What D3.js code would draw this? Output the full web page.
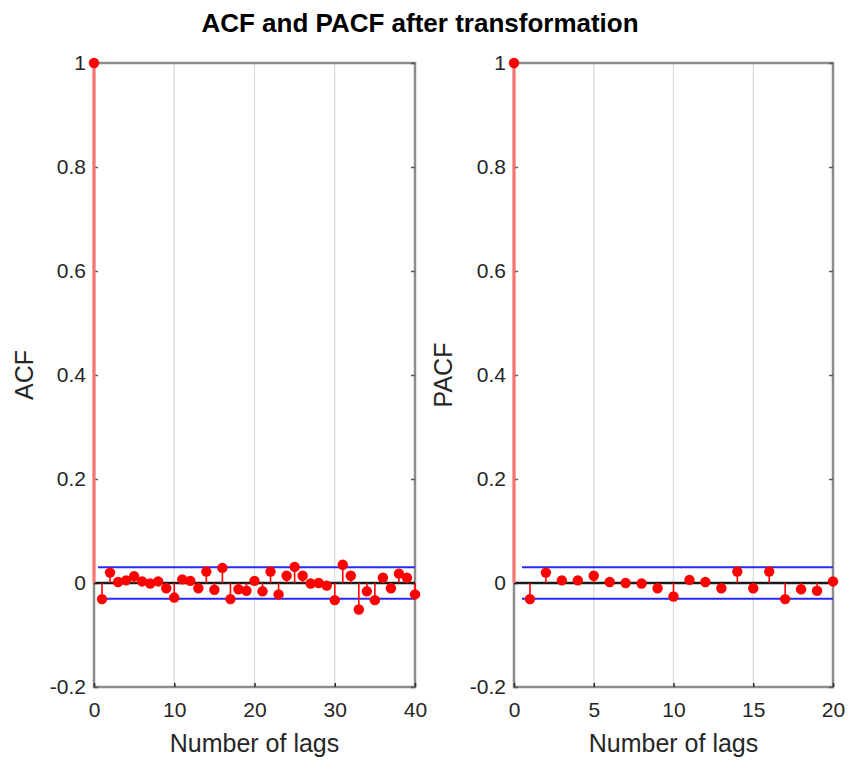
<!DOCTYPE html>
<html>
<head>
<meta charset="utf-8">
<script src="https://cdn.jsdelivr.net/npm/d3@7"></script>
<style>
  html, body { margin: 0; padding: 0; background: #fff; }
  svg { display: block; font-family: "Liberation Sans", Arial, sans-serif; }
</style>
</head>
<body>
<svg id="chart" width="850" height="762"></svg>
<script>
// Sample autocorrelation, lags 0..40
const acfLags = d3.range(0, 41);
const acfValues = [
  1.000, -0.031, 0.020, 0.002, 0.005, 0.013, 0.003, -0.001, 0.003, -0.010,
  -0.028, 0.007, 0.004, -0.010, 0.022, -0.013, 0.029, -0.031, -0.012, -0.015,
  0.004, -0.016, 0.022, -0.022, 0.014, 0.031, 0.014, -0.001, 0.000, -0.005,
  -0.033, 0.035, 0.014, -0.051, -0.016, -0.033, 0.010, -0.010, 0.018, 0.010,
  -0.022
];
// Sample partial autocorrelation, lags 0..20
const pacfLags = d3.range(0, 21);
const pacfValues = [
  1.000, -0.031, 0.020, 0.005, 0.005, 0.014, 0.002, 0.000, -0.001, -0.010,
  -0.026, 0.006, 0.002, -0.010, 0.022, -0.010, 0.022, -0.031, -0.012, -0.015,
  0.003
];
// Approximate 95% confidence bound
const confBound = 0.0305;

const yTicks = [-0.2, 0, 0.2, 0.4, 0.6, 0.8, 1];
const acfXTicks = [0, 10, 20, 30, 40];
const pacfXTicks = [0, 5, 10, 15, 20];

const FONT = "'Liberation Sans', Arial, sans-serif";
const svg = d3.select("#chart");

svg.append("text")
  .attr("x", 420).attr("y", 32)
  .attr("text-anchor", "middle")
  .attr("font-size", 26).attr("font-weight", "bold")
  .attr("fill", "#000")
  .text("ACF and PACF after transformation");

// plain hyphen for negatives, as in "-0.2"
const fmtY = d => String(+d.toFixed(1));

function panel(opts) {
  const { left, right, top, bottom, lags, values, xMax, xTicks, ylabel, ylabelX } = opts;
  const x = d3.scaleLinear().domain([0, xMax]).range([left, right]);
  const y = d3.scaleLinear().domain([-0.2, 1]).range([bottom, top]);
  const g = svg.append("g");

  // vertical grid lines
  g.append("g").selectAll("line").data(xTicks.filter(t => t > 0 && t < xMax)).join("line")
    .attr("x1", d => x(d)).attr("x2", d => x(d))
    .attr("y1", top).attr("y2", bottom)
    .attr("stroke", "#dedede").attr("stroke-width", 1.4);

  // axes box
  g.append("rect")
    .attr("x", left).attr("y", top)
    .attr("width", right - left).attr("height", bottom - top)
    .attr("fill", "none").attr("stroke", "#8c8c8c").attr("stroke-width", 2.5);

  // ticks (inward) and labels
  const xAxis = d3.axisBottom(x).tickValues(xTicks).tickSize(-4).tickPadding(12).tickFormat(d3.format("d"));
  const xg = g.append("g").attr("transform", `translate(0,${bottom})`).call(xAxis);
  xg.select(".domain").remove();
  xg.selectAll("line").attr("stroke", "#262626").attr("stroke-width", 1.5);
  xg.selectAll("text").attr("font-size", 21).attr("fill", "#262626")
    .attr("font-family", FONT).attr("dy", "0.85em");

  const yAxis = d3.axisLeft(y).tickValues(yTicks).tickSize(-4).tickPadding(8).tickFormat(fmtY);
  const yg = g.append("g").attr("transform", `translate(${left},0)`).call(yAxis);
  yg.select(".domain").remove();
  yg.selectAll("line").attr("stroke", "#595959").attr("stroke-width", 1.5);
  yg.selectAll("text").attr("font-size", 21).attr("fill", "#262626")
    .attr("font-family", FONT);

  const yAxisR = d3.axisRight(y).tickValues(yTicks).tickSize(-4).tickFormat("");
  const ygr = g.append("g").attr("transform", `translate(${right},0)`).call(yAxisR);
  ygr.select(".domain").remove();
  ygr.selectAll("line").attr("stroke", "#595959").attr("stroke-width", 1.5);

  // zero line
  g.append("line")
    .attr("x1", x(0)).attr("x2", x(xMax))
    .attr("y1", y(0)).attr("y2", y(0))
    .attr("stroke", "#1a1a1a").attr("stroke-width", 2.5);

  // confidence bounds
  [confBound, -confBound].forEach(b => {
    g.append("line")
      .attr("x1", x(0.5)).attr("x2", x(xMax))
      .attr("y1", y(b)).attr("y2", y(b))
      .attr("stroke", "#2a2aff").attr("stroke-width", 2);
  });

  const pts = lags.map((l, i) => ({ lag: l, v: values[i] }));

  // stems
  g.append("g").selectAll("line").data(pts).join("line")
    .attr("x1", d => x(d.lag)).attr("x2", d => x(d.lag))
    .attr("y1", y(0)).attr("y2", d => y(d.v))
    .attr("stroke", d => d.lag === 0 ? "#ff7373" : "#ff0000")
    .attr("stroke-width", d => d.lag === 0 ? 3 : 1.6);

  // markers
  g.append("g").selectAll("circle").data(pts).join("circle")
    .attr("cx", d => x(d.lag)).attr("cy", d => y(d.v))
    .attr("r", 5.2).attr("fill", "#ff0000");

  // axis titles
  g.append("text")
    .attr("x", (left + right) / 2).attr("y", 752)
    .attr("text-anchor", "middle").attr("font-size", 25).attr("fill", "#262626")
    .text("Number of lags");
  g.append("text")
    .attr("transform", `translate(${ylabelX},${(top + bottom) / 2}) rotate(-90)`)
    .attr("text-anchor", "middle").attr("font-size", 25).attr("fill", "#262626")
    .text(ylabel);
}

panel({ left: 94, right: 415, top: 63, bottom: 687, lags: acfLags, values: acfValues,
        xMax: 40, xTicks: acfXTicks, ylabel: "ACF", ylabelX: 33 });
panel({ left: 514, right: 833, top: 63, bottom: 687, lags: pacfLags, values: pacfValues,
        xMax: 20, xTicks: pacfXTicks, ylabel: "PACF", ylabelX: 452 });
</script>
</body>
</html>
